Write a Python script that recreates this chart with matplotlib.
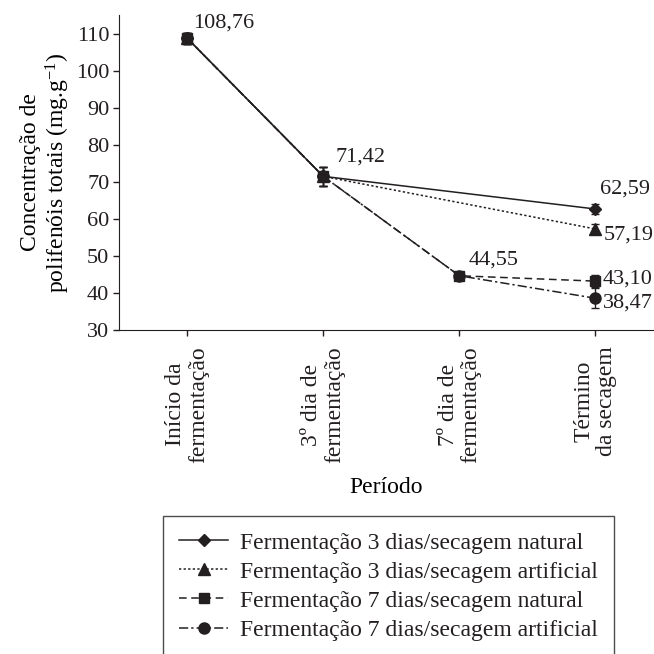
import matplotlib
matplotlib.use("Agg")
import matplotlib.pyplot as plt

# Dados do gráfico
periodos = ["Início da\nfermentação", "3º dia de\nfermentação", "7º dia de\nfermentação", "Término\nda secagem"]
series = [
    "Fermentação 3 dias/secagem natural",
    "Fermentação 3 dias/secagem artificial",
    "Fermentação 7 dias/secagem natural",
    "Fermentação 7 dias/secagem artificial",
]
x_3dias = [0, 1, 3]
x_7dias = [0, 1, 2, 3]
f3_natural = [108.76, 71.42, 62.59]
f3_artificial = [108.76, 71.42, 57.19]
f7_natural = [108.76, 71.42, 44.55, 43.10]
f7_artificial = [108.76, 71.42, 44.55, 38.47]
err_f3_natural = [1.5, 2.5, 1.4]
err_f3_artificial = [1.5, 2.5, 1.4]
err_f7_natural = [1.5, 2.5, 0.6, 1.6]
err_f7_artificial = [1.5, 2.5, 0.6, 2.7]

cor = "#231f20"
tam_texto = 17
tam_num = 16
plt.rcParams["font.family"] = ["Liberation Serif", "DejaVu Serif"]
plt.rcParams["mathtext.fontset"] = "custom"
plt.rcParams["mathtext.rm"] = "Liberation Serif"
plt.rcParams["mathtext.it"] = "Liberation Serif:italic"
plt.rcParams["text.color"] = cor
plt.rcParams["axes.edgecolor"] = cor
plt.rcParams["xtick.color"] = cor
plt.rcParams["ytick.color"] = cor

fig = plt.figure(figsize=(6.54, 6.54), dpi=100)
ax = fig.add_axes([0.182, 0.496, 0.818, 0.481])

linha = dict(color=cor, linewidth=1.1)
erro = dict(fmt="none", ecolor=cor, capsize=3, elinewidth=1.0, capthick=1.0)

# barras de erro (fora da legenda)
ax.errorbar(x_3dias, f3_natural, yerr=err_f3_natural, **erro)
ax.errorbar(x_3dias, f3_artificial, yerr=err_f3_artificial, **erro)
ax.errorbar(x_7dias, f7_natural, yerr=err_f7_natural, **erro)
ax.errorbar(x_7dias, f7_artificial, yerr=err_f7_artificial, **erro)

ax.plot(x_3dias, f3_natural, linestyle="-", marker="D", markersize=6.5, label=series[0], **linha)
ax.plot(x_3dias, f3_artificial, linestyle=(0, (1.5, 1.5)), marker="^", markersize=8, label=series[1], **linha)
ax.plot(x_7dias, f7_natural, linestyle=(0, (5, 3)), marker="s", markersize=6.5, label=series[2], **linha)
ax.plot(x_7dias, f7_artificial, linestyle=(0, (6, 2, 1.5, 2)), marker="o", markersize=8, label=series[3], **linha)

# rótulos dos valores
rotulos = [
    (0, 108.76, (6, 15)),
    (1, 71.42, (12, 19)),
    (2, 44.55, (9, 16)),
    (3, 62.59, (5, 20)),
    (3, 57.19, (8, -6)),
    (3, 43.10, (7, 2)),
    (3, 38.47, (7, -5)),
]
for xi, yi, desloc in rotulos:
    ax.annotate(f"{yi:.2f}".replace(".", ","), (xi, yi), xytext=desloc,
                textcoords="offset pixels", ha="left", va="center", fontsize=tam_num)

ax.set_xlim(-0.5, 3.43)
ax.set_ylim(30, 115)
ax.set_yticks(range(30, 111, 10))
ax.set_xticks(range(len(periodos)))
ax.set_xticklabels(periodos, rotation=90, multialignment="center", va="top", ha="center",
                   fontsize=tam_texto, linespacing=1.1)
ax.tick_params(axis="both", direction="out", length=4, width=1.0)
ax.tick_params(axis="y", labelsize=tam_num, pad=3)
ax.tick_params(axis="x", pad=8)
ax.spines["top"].set_visible(False)
ax.spines["right"].set_visible(False)
ax.set_xlabel("Período", fontsize=tam_texto, labelpad=10)
ax.set_ylabel("Concentração de\npolifenóis totais (mg.g$^{-1}$)", fontsize=tam_texto,
              labelpad=3, linespacing=1.1)

leg = fig.legend(loc="upper left", bbox_to_anchor=(0.249, 0.211), fontsize=tam_texto,
                 frameon=True, fancybox=False, edgecolor=cor, handlelength=2.1,
                 labelspacing=0.32, borderpad=0.68, handletextpad=0.5, borderaxespad=0)
leg.get_frame().set_linewidth(1.0)

fig.savefig("out.png", dpi=100)
